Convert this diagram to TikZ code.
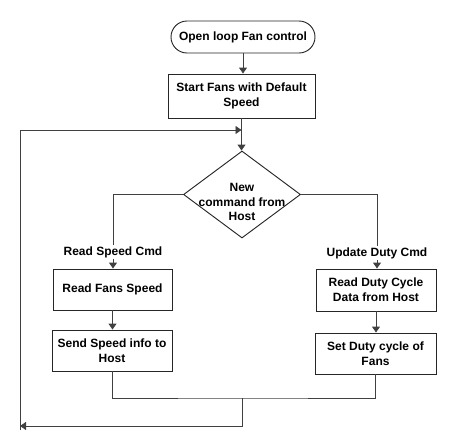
\documentclass[tikz,border=0pt]{standalone}
\usepackage{fontspec}
\setmainfont{Liberation Sans}
\usetikzlibrary{shapes.geometric,arrows.meta}
\begin{document}
\begin{tikzpicture}[x=0.75pt,y=-0.75pt,
  every node/.style={font=\fontsize{9}{11}\selectfont\bfseries},
  boxnode/.style={draw=black!85,line width=0.7pt,align=center,inner sep=0pt},
  conn/.style={draw=black!75,line width=0.7pt},
  arr/.style={conn,-{Triangle[length=4.5pt,width=6pt]}}]
\useasboundingbox (0,0) rectangle (458,447);
\node[boxnode,rounded corners=12pt,minimum width=108pt,minimum height=24pt] (start) at (243,37) {Open loop Fan control};
\node[boxnode,minimum width=110.25pt,minimum height=33pt] (b1) at (241.5,96) {Start Fans with Default\\Speed};
\node[diamond,draw=black!85,line width=0.7pt,inner sep=0pt,minimum width=87.75pt,minimum height=65.25pt] (d) at (242,194.5) {};
\node[align=center,inner sep=0pt] (dt) at (242,202) {New\\command from\\Host};
\node[inner sep=1pt] (lblL) at (113,252) {Read Speed Cmd};
\node[inner sep=1pt] (lblR) at (377,253) {Update Duty Cmd};
\node[boxnode,minimum width=89.25pt,minimum height=30.75pt] (rfs) at (112.5,289.5) {Read Fans Speed};
\node[boxnode,minimum width=90pt,minimum height=30.75pt] (ssi) at (112,350.5) {Send Speed info to\\Host};
\node[boxnode,minimum width=90pt,minimum height=31.5pt] (rdc) at (376,290) {Read Duty Cycle\\Data from Host};
\node[boxnode,minimum width=90.75pt,minimum height=30.75pt] (sdc) at (375.5,353.5) {Set Duty cycle of\\Fans};
\coordinate (j) at (241.5,130);
\coordinate (m) at (242,398);
\coordinate (lp) at (20,426);
\coordinate (lb) at (20,430);
\draw[arr] (start.south) -- (start.south |- b1.north);
\draw[arr] (b1.south) -- (b1.south |- d.north);
\draw[arr] (lb) |- (j);
\draw[conn] (d.west) -| (lblL.north);
\draw[conn] (d.east) -| (lblR.north);
\draw[arr] (lblL.south) -- (lblL.south |- rfs.north);
\draw[arr] (lblR.south) -- (lblR.south |- rdc.north);
\draw[arr] (rfs.south) -- (rfs.south |- ssi.north);
\draw[arr] (rdc.south) -- (rdc.south |- sdc.north);
\draw[conn] (ssi.south) |- (m) -| (sdc.south);
\draw[arr] (m) |- (lp);
\end{tikzpicture}
\end{document}
